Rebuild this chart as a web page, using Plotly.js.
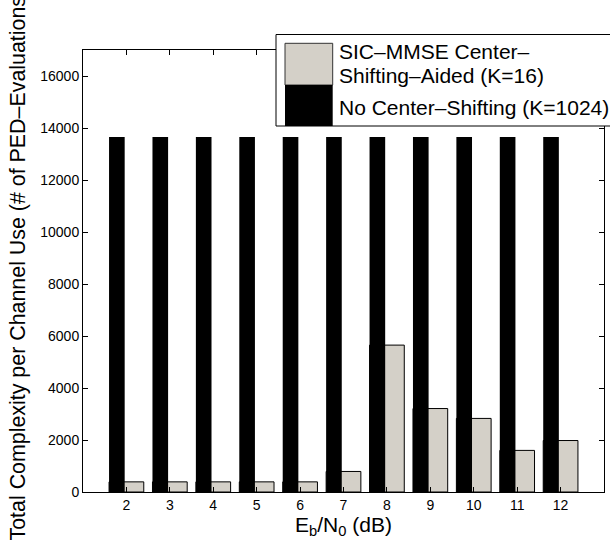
<!DOCTYPE html>
<html>
<head>
<meta charset="utf-8">
<script src="https://cdn.plot.ly/plotly-3.0.1.min.js"></script>
<style>html,body{margin:0;padding:0;background:#fff;}#chart{width:610px;height:541px;}</style>
</head>
<body>
<div id="chart"></div>
<script>
// Data
var ebn0 = [2, 3, 4, 5, 6, 7, 8, 9, 10, 11, 12];
var sicMmse = [390, 390, 390, 390, 390, 790, 5650, 3210, 2830, 1600, 1980];
var noShift = [13650, 13650, 13650, 13650, 13650, 13650, 13650, 13650, 13650, 13650, 13650];
var seriesNames = ['SIC\u2013MMSE Center\u2013 Shifting\u2013Aided (K=16)', 'No Center\u2013Shifting (K=1024)'];
var legendLines = ['SIC\u2013MMSE Center\u2013', 'Shifting\u2013Aided (K=16)', 'No Center\u2013Shifting (K=1024)'];
var yTickVals = [0, 2000, 4000, 6000, 8000, 10000, 12000, 14000, 16000];
var yTickText = ['0', '2000', '4000', '6000', '8000', '10000', '12000', '14000', '16000'];
var xTitle = 'E<sub>b</sub>/N<sub>0</sub> (dB)';
var yTitle = 'Total Complexity per Channel Use (# of PED\u2013Evaluations)';

var FONT = 'Liberation Sans, Arial, Helvetica, sans-serif';

var traces = [
  {
    type: 'bar', x: ebn0, y: sicMmse, name: seriesNames[0],
    width: 0.8, offset: -0.4,
    marker: {color: '#d4d0c8', line: {color: '#000', width: 1}},
    showlegend: false, hoverinfo: 'x+y'
  },
  {
    type: 'bar', x: ebn0, y: noShift, name: seriesNames[1],
    width: 0.36, offset: -0.4,
    marker: {color: '#000', line: {color: '#000', width: 0}},
    showlegend: false, hoverinfo: 'x+y'
  }
];

// plot-area pixel helpers for the hand-drawn legend
var L = 83, R = 604, T = 50, B = 492;
function px(x) { return (x - L) / (R - L); }
function py(y) { return (B - y) / (B - T); }

var layout = {
  width: 610, height: 541,
  margin: {l: L, r: 610 - R, t: T, b: 541 - B, pad: 0},
  paper_bgcolor: '#fff', plot_bgcolor: '#fff',
  barmode: 'overlay',
  font: {family: FONT, color: '#000', size: 14},
  xaxis: {
    range: [1, 13], tickvals: ebn0, ticktext: ebn0.map(String),
    ticks: 'inside', ticklen: 5, tickcolor: '#000', tickwidth: 1,
    showline: true, linecolor: '#000', linewidth: 1, mirror: 'ticks',
    showgrid: false, zeroline: false,
    tickfont: {size: 14, family: FONT},
    title: {text: xTitle, font: {size: 21, family: FONT}, standoff: 2}
  },
  yaxis: {
    range: [0, 17000], tickvals: yTickVals, ticktext: yTickText,
    ticks: 'inside', ticklen: 5, tickcolor: '#000', tickwidth: 1,
    showline: true, linecolor: '#000', linewidth: 1, mirror: 'ticks',
    showgrid: false, zeroline: false,
    tickfont: {size: 14, family: FONT}
  },
  shapes: [
    {type: 'rect', xref: 'paper', yref: 'paper', x0: px(276), x1: px(640), y0: py(126), y1: py(34.5),
     fillcolor: '#fff', line: {color: '#000', width: 1}, layer: 'above'},
    {type: 'rect', xref: 'paper', yref: 'paper', x0: px(285), x1: px(332.7), y0: py(85), y1: py(43.3),
     fillcolor: '#d4d0c8', line: {color: '#333', width: 1}, layer: 'above'},
    {type: 'rect', xref: 'paper', yref: 'paper', x0: px(285), x1: px(332.7), y0: py(126), y1: py(85),
     fillcolor: '#000', line: {color: '#000', width: 0}, layer: 'above'}
  ],
  annotations: [
    {xref: 'paper', yref: 'paper', x: px(17.5), y: py(265), text: yTitle, showarrow: false, textangle: -90,
     xanchor: 'center', yanchor: 'middle', font: {size: 21.4, family: FONT, color: '#000'}},
    {xref: 'paper', yref: 'paper', x: px(337), y: py(52), text: legendLines[0], showarrow: false,
     xanchor: 'left', yanchor: 'middle', font: {size: 21, family: FONT, color: '#000'}},
    {xref: 'paper', yref: 'paper', x: px(337), y: py(75.5), text: legendLines[1], showarrow: false,
     xanchor: 'left', yanchor: 'middle', font: {size: 21, family: FONT, color: '#000'}},
    {xref: 'paper', yref: 'paper', x: px(337), y: py(107.5), text: legendLines[2], showarrow: false,
     xanchor: 'left', yanchor: 'middle', font: {size: 21, family: FONT, color: '#000'}}
  ]
};

Plotly.newPlot('chart', traces, layout, {displayModeBar: false, staticPlot: true});
</script>
</body>
</html>
